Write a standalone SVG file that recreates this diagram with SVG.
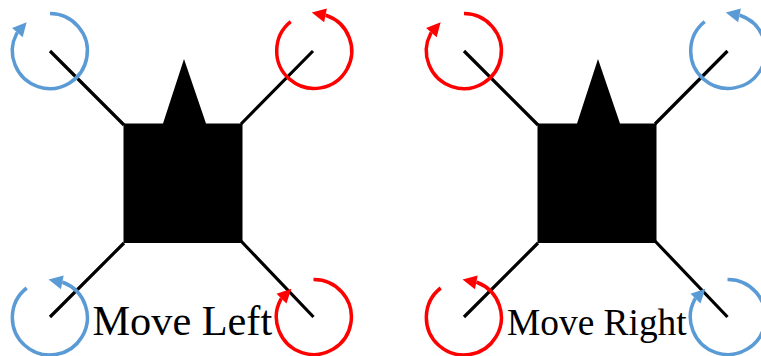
<svg xmlns="http://www.w3.org/2000/svg" width="761" height="356" viewBox="0 0 761 356">
<style>
.arm{stroke:#000;stroke-width:3.200;fill:none;stroke-linecap:butt}
.rot{fill:none;stroke-width:3.500}
.blue{stroke:#5B9BD5}
.red{stroke:#FF0000}
.blue-end{marker-end:url(#ab)}
.red-end{marker-end:url(#ar)}
.lbl{font-family:"Liberation Serif","Times New Roman",serif;fill:#000}
</style>
<defs>
<marker id="ab" markerUnits="userSpaceOnUse" markerWidth="16" markerHeight="16" refX="1" refY="8" orient="auto"><path d="M1 1L15 8L1 15Z" fill="#5B9BD5"/></marker>
<marker id="ar" markerUnits="userSpaceOnUse" markerWidth="16" markerHeight="16" refX="1" refY="8" orient="auto"><path d="M1 1L15 8L1 15Z" fill="#FF0000"/></marker>
<path id="b" d="M123.500 123.500H163L184 59L206 123.500H242.500V243H123.500Z" fill="#000"/>
</defs>
<rect width="761" height="356" fill="#fff"/>
<g id="left-drone">
<use href="#b"/>
</g>
<g id="right-drone">
<use href="#b" x="414"/>
</g>
<g id="connectors">
<path class="arm" d="M50 51L124 125M313 51L241 124M50 317L124 243M313.500 317L241 241"/>
<path class="arm" d="M464 51L538 125M727.500 51L655 124M464 317L538 243M727.500 317L655 241"/>
</g>
<g id="rotor-left-tl"><path class="rot blue blue-end" d="M50 13.500A37.500 37.500 0 1 1 16.700 33.500L17.400 32.700"/></g>
<g id="rotor-left-tr"><path class="rot red red-end" d="M290.700 21.700A37.500 37.500 0 1 0 326.500 15.500L325.500 15.300"/></g>
<g id="rotor-left-bl"><path class="rot blue blue-end" d="M26.700 288A37.500 37.500 0 1 0 63.300 282.500L62.300 282.300"/></g>
<g id="rotor-left-br"><path class="rot red red-end" d="M313.500 279.500A37.500 37.500 0 1 1 280.800 299.300L281.500 298.600"/></g>
<g id="rotor-right-tl"><path class="rot red red-end" d="M464 13.500A37.500 37.500 0 1 1 430.700 33.500L431.400 32.700"/></g>
<g id="rotor-right-tr"><path class="rot blue blue-end" d="M704.700 21.700A37.500 37.500 0 1 0 740.500 15.500L739.500 15.300"/></g>
<g id="rotor-right-bl"><path class="rot red red-end" d="M440.700 288A37.500 37.500 0 1 0 477.300 282.500L476.300 282.300"/></g>
<g id="rotor-right-br"><path class="rot blue blue-end" d="M727.500 279.500A37.500 37.500 0 1 1 694.800 299.300L695.500 298.600"/></g>
<text class="lbl" x="92.500" y="335" font-size="42.300">Move Left</text>
<text class="lbl" x="507" y="335" font-size="37.400">Move Right</text>
</svg>
